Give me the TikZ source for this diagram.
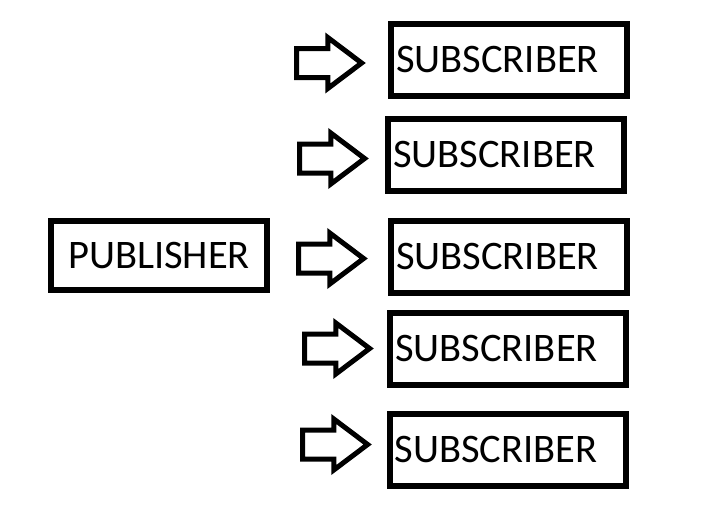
\documentclass[tikz,border=0pt]{standalone}
\usepackage{fontspec}
\setmainfont{Carlito}
\usepackage{tikz}
\usetikzlibrary{shapes.arrows}
\tikzset{
    pubbox/.style={draw=black, line width=6pt, minimum width=216pt, minimum height=69pt, inner sep=0pt, font=\fontsize{40.5}{48}\selectfont},
    subbox/.style={draw=black, line width=6pt, text width=226pt, inner xsep=5pt, inner ysep=0pt, minimum height=72pt, align=left, font=\fontsize{40.5}{48}\selectfont},
    fatarrow/.style={single arrow, draw=black, line width=5pt, inner sep=12pt, minimum height=65pt, single arrow head extend=11pt, single arrow tip angle=74}}

\begin{document}
\begin{tikzpicture}[x=1pt, y=-1pt]
        
                    \useasboundingbox (0,0) rectangle (723,522);
                
                    \node[pubbox] (P) at (159,255.5) {PUBLISHER};
                
                    \node[subbox] (S1) at (509,60) {SUBSCRIBER};
                    \node[subbox] (S2) at (506,154.5) {SUBSCRIBER};
                    \node[subbox] (S3) at (509,256.5) {SUBSCRIBER};
                    \node[subbox] (S4) at (508,348.5) {SUBSCRIBER};
                    \node[subbox] (S5) at (507.5,449.5) {SUBSCRIBER};
                
                    \node[fatarrow] (A1) at (319.5,63) {};
                    \node[fatarrow] (A2) at (322.5,158.5) {};
                    \node[fatarrow] (A3) at (321.5,258.5) {};
                    \node[fatarrow] (A4) at (327.5,348.5) {};
                    \node[fatarrow] (A5) at (325.5,444.5) {};
            
                \end{tikzpicture}
\end{document}
